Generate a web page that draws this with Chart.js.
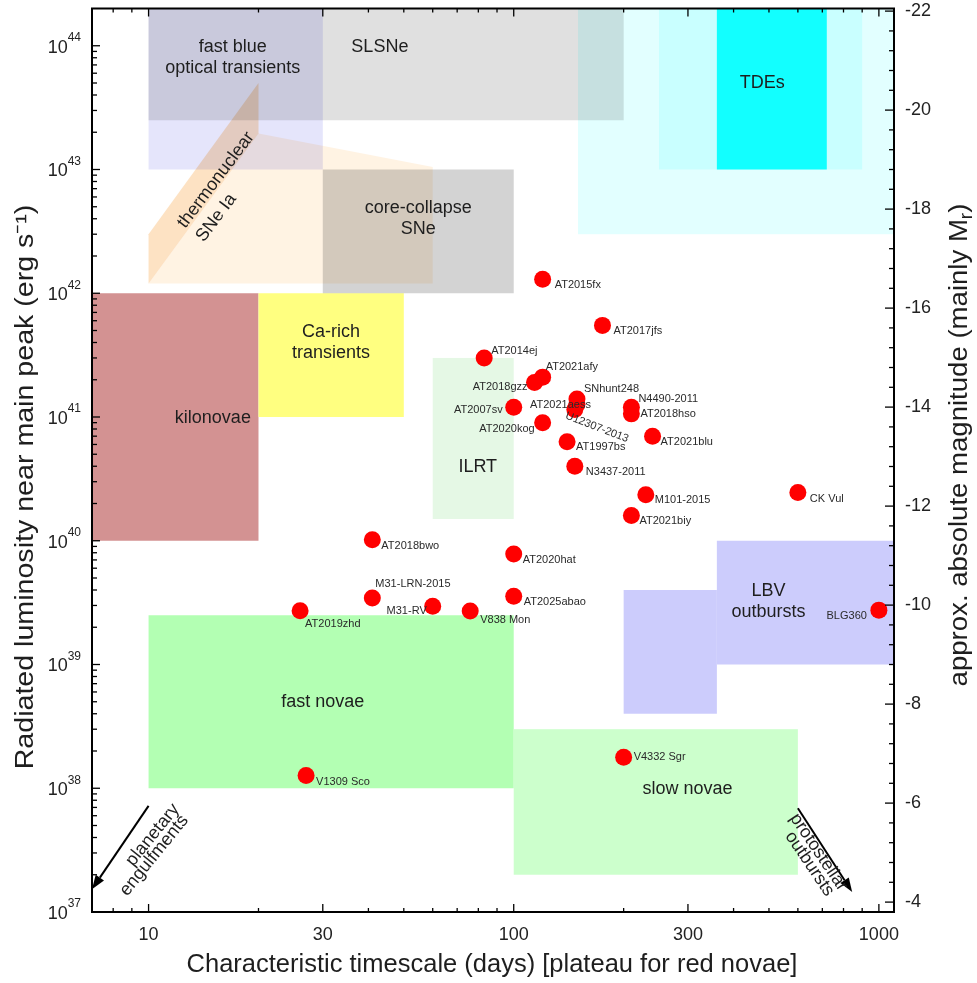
<!DOCTYPE html>
<html><head><meta charset="utf-8">
<script src="https://cdn.jsdelivr.net/npm/chart.js@4/dist/chart.umd.min.js"></script>
<style>html,body{margin:0;padding:0;background:#fff}#wrap{width:977px;height:983px;position:relative}</style>
</head><body><div id="wrap"><canvas id="c" width="977" height="983"></canvas></div>
<script>
// ---------------- data ----------------
const objectNames = ['AT2015fx','AT2017jfs','AT2014ej','AT2021afy','AT2018gzz','AT2007sv','SNhunt248','AT2021aess','U12307-2013','AT2020kog','N4490-2011','AT2018hso','AT2021blu','AT1997bs','N3437-2011','M101-2015','AT2021biy','CK Vul','BLG360','AT2018bwo','AT2020hat','M31-LRN-2015','M31-RV','AT2019zhd','V838 Mon','AT2025abao','V4332 Sgr','V1309 Sco'];
const timescaleDays = [120, 175, 83, 120, 114, 100, 149, 149, 147, 120, 210, 210, 240, 140, 147, 230, 210, 600, 1000, 41, 100, 41, 60, 26, 76, 100, 200, 27];
const peakLuminosity = [1.3e42, 5.5e41, 3.0e41, 2.1e41, 1.9e41, 1.2e41, 1.4e41, 1.27e41, 1.15e41, 9.0e40, 1.2e41, 1.06e41, 7.0e40, 6.3e40, 4.0e40, 2.35e40, 1.6e40, 2.45e40, 2.75e39, 1.02e40, 7.8e39, 3.45e39, 2.95e39, 2.72e39, 2.71e39, 3.56e39, 1.78e38, 1.27e38];

// class regions (days range, luminosity range)
const boxNames    = ['TDE wide','TDE mid','TDE core','fast blue','kilonovae','Ca-rich','ILRT','fast novae','slow novae','LBV low','LBV high','SLSNe','core-collapse'];
const boxDaysMin  = [150, 250, 360, 10, 1,   20,  60,   10,   100,  200,  360,  10,   30];
const boxDaysMax  = [5000, 900, 720, 30, 20, 50,  100,  100,  600,  360,  5000, 200,  100];
const boxLumMin   = [3e42, 1e43, 1e43, 1e43, 1e40, 1e41, 1.5e40, 1e38, 2e37, 4e38, 1e39, 2.5e43, 1e42];
const boxLumMax   = [1e46, 1e46, 1e46, 1e46, 1e42, 1e42, 3e41, 2.5e39, 3e38, 4e39, 1e40, 1e46, 1e43];
// thermonuclear SNe Ia polygons
const sneIaDays  = [10, 20, 60, 60];
const sneIaLum   = [1.2e42, 1.95e43, 1.05e43, 1.2e42];
const sneIaBandDays = [10, 20, 20, 10];
const sneIaBandLum  = [3e42, 5e43, 1.95e43, 1.2e42];
// arrows (start -> end)
const arrowDays = [[10, 7.0], [600, 845]];
const arrowLum  = [[7.2e37, 1.53e37], [6.9e37, 1.45e37]];

// axis ticks
const xTickValues = [8,9,10,20,30,40,50,60,70,80,90,100,200,300,400,500,600,700,800,900,1000];
const xLabelledTicks = [10,30,100,300,1000];
const lumDecades = [37,38,39,40,41,42,43,44];
const magLabelledTicks = [-22,-20,-18,-16,-14,-12,-10,-8,-6,-4];

// ---------------- styles / placement ----------------
const boxColors = ['#e2ffff','#c9ffff','#12ffff','#e5e5fb','#d39292','#ffff80','#e5f8e5','#b3ffb3','#ccffcc','#ccccfc','#ccccfc','#e0e0e0','#d3d3d3'];
const boxBlend  = ['source-over','source-over','source-over','source-over','source-over','source-over','source-over','source-over','source-over','source-over','source-over','multiply','multiply'];
const regionLabelText = [['fast blue','optical transients'],['SLSNe'],['TDEs'],['core-collapse','SNe'],['Ca-rich','transients'],['kilonovae'],['ILRT'],['LBV','outbursts'],['fast novae'],['slow novae']];
const regionLabelDays = [17.0, 43, 479, 54.8, 31.6, 15.0, 79.7, 498.6, 30.0, 299];
const regionLabelLum  = [8.07e43, 9.8e43, 5.0e43, 4.03e42, 4.03e41, 9.8e40, 3.95e40, 3.22e39, 4.94e38, 9.8e37];
const labelOffsets = [
 [12,6,'left',0],[11,6,'left',0],[7,-7,'left',0],[3,-10,'left',0],[-7,4,'right',0],[-11,3,'right',0],
 [7,-10,'left',0],[-47,1,'left',0],[-9,6,'left',21],[-8,6,'right',0],[7,-8,'left',0],[9,0,'left',0],
 [8,6,'left',0],[9,5,'left',0],[11,6,'left',0],[9,5,'left',0],[8,5,'left',0],[12,6,'left',0],
 [-12,6,'right',0],[9,6,'left',0],[9,6,'left',0],[3,-14,'left',0],[-6,5,'right',0],[5,13,'left',0],
 [10,9,'left',0],[10,6,'left',0],[10,0,'left',0],[10,7,'left',0]
];
const FONT = "'Liberation Sans', Arial, Helvetica, sans-serif";
const M0 = 88.7; // bolometric magnitude zero-point: M = M0 - 2.5 log10 L
const yMin = 1e37, yMax = 2e44;

const SUP = {'0':'⁰','1':'¹','2':'²','3':'³','4':'⁴','5':'⁵','6':'⁶','7':'⁷','8':'⁸','9':'⁹','-':'⁻'};
const sup = s => String(s).split('').map(c => SUP[c] || c).join('');
const isDecade = v => Math.abs(Math.log10(v) - Math.round(Math.log10(v))) < 1e-6;

Chart.defaults.font.family = FONT;
Chart.defaults.color = '#222';

const regionsPlugin = {
  id: 'regions',
  beforeDatasetsDraw(chart) {
    const ctx = chart.ctx, a = chart.chartArea, X = chart.scales.x, Y = chart.scales.y;
    const px = v => X.getPixelForValue(v), py = v => Y.getPixelForValue(v);
    ctx.save();
    ctx.beginPath(); ctx.rect(a.left, a.top, a.right - a.left, a.bottom - a.top); ctx.clip();
    ctx.fillStyle = '#fff'; ctx.fillRect(a.left, a.top, a.right - a.left, a.bottom - a.top);
    for (let i = 0; i < boxNames.length; i++) {
      const x0 = px(boxDaysMin[i]), x1 = px(boxDaysMax[i]);
      const y0 = py(boxLumMax[i]), y1 = py(boxLumMin[i]);
      ctx.globalCompositeOperation = boxBlend[i];
      ctx.fillStyle = boxColors[i];
      ctx.fillRect(x0, y0, x1 - x0, y1 - y0);
    }
    ctx.globalCompositeOperation = 'multiply';
    const poly = (ds, ls, col) => {
      ctx.beginPath();
      ds.forEach((d, k) => { const x = px(d), y = py(ls[k]); k ? ctx.lineTo(x, y) : ctx.moveTo(x, y); });
      ctx.closePath(); ctx.fillStyle = col; ctx.fill();
    };
    poly(sneIaDays, sneIaLum, '#fff3e3');
    poly(sneIaBandDays, sneIaBandLum, '#fde2c3');
    ctx.globalCompositeOperation = 'source-over';
    // region labels
    ctx.fillStyle = '#1e1e1e';
    ctx.font = '18px ' + FONT;
    ctx.textAlign = 'center'; ctx.textBaseline = 'middle';
    regionLabelText.forEach((lines, i) => {
      const cx = px(regionLabelDays[i]), cy = py(regionLabelLum[i]);
      const n = lines.length, lh = 21;
      lines.forEach((t, k) => ctx.fillText(t, cx, cy + (k - (n - 1) / 2) * lh));
    });
    // thermonuclear SNe Ia (rotated, left aligned)
    ctx.save();
    ctx.translate(px(12.3), py(3.5e42));
    ctx.rotate(-53 * Math.PI / 180);
    ctx.textAlign = 'left';
    ctx.fillText('thermonuclear', 0, 0);
    ctx.fillText('SNe Ia', 0, 23);
    ctx.restore();
    ctx.restore();
  },
  afterDatasetsDraw(chart) {
    const ctx = chart.ctx, meta = chart.getDatasetMeta(0);
    ctx.save();
    ctx.font = '11px ' + FONT;
    ctx.fillStyle = '#2a2a2a';
    ctx.textBaseline = 'middle';
    meta.data.forEach((el, i) => {
      const o = labelOffsets[i];
      ctx.save();
      ctx.translate(el.x + o[0], el.y + o[1]);
      ctx.rotate(o[3] * Math.PI / 180);
      ctx.textAlign = o[2];
      ctx.fillText(objectNames[i], 0, 0);
      ctx.restore();
    });
    ctx.restore();
  },
  afterDraw(chart) {
    const ctx = chart.ctx, a = chart.chartArea;
    const X = chart.scales.x, Y = chart.scales.y, M = chart.scales.y2;
    ctx.save();
    // arrows
    ctx.strokeStyle = '#000'; ctx.fillStyle = '#000'; ctx.lineWidth = 2;
    arrowDays.forEach((d, i) => {
      const x0 = X.getPixelForValue(d[0]), y0 = Y.getPixelForValue(arrowLum[i][0]);
      const x1 = X.getPixelForValue(d[1]), y1 = Y.getPixelForValue(arrowLum[i][1]);
      const ang = Math.atan2(y1 - y0, x1 - x0), hl = 14, hw = 5;
      const bx = x1 - hl * Math.cos(ang), by = y1 - hl * Math.sin(ang);
      ctx.beginPath(); ctx.moveTo(x0, y0); ctx.lineTo(bx, by); ctx.stroke();
      ctx.beginPath(); ctx.moveTo(x1, y1);
      ctx.lineTo(bx + hw * Math.sin(ang), by - hw * Math.cos(ang));
      ctx.lineTo(bx - hw * Math.sin(ang), by + hw * Math.cos(ang));
      ctx.closePath(); ctx.fill();
    });
    ctx.fillStyle = '#1e1e1e';
    ctx.font = '18px ' + FONT; ctx.textAlign = 'right'; ctx.textBaseline = 'middle';
    const rotText = (lines, d, l, deg) => {
      ctx.save();
      ctx.translate(X.getPixelForValue(d), Y.getPixelForValue(l));
      ctx.rotate(deg * Math.PI / 180);
      ctx.fillText(lines[0], 0, 0);
      ctx.fillText(lines[1], -3, 14);
      ctx.restore();
    };
    rotText(['planetary', 'engulfments'], 11.89, 7.16e37, -51);
    rotText(['protostellar', 'outbursts'], 800, 1.53e37, 56);
    // tick marks (inward)
    ctx.strokeStyle = '#000'; ctx.lineWidth = 1.3;
    const line = (x0, y0, x1, y1) => { ctx.beginPath(); ctx.moveTo(x0, y0); ctx.lineTo(x1, y1); ctx.stroke(); };
    X.ticks.forEach(t => {
      const p = X.getPixelForValue(t.value);
      if (p <= a.left + 1 || p >= a.right - 1) return;
      const len = xLabelledTicks.includes(t.value) ? 8 : 4;
      line(p, a.bottom, p, a.bottom - len);
      line(p, a.top, p, a.top + len);
    });
    Y.ticks.forEach(t => {
      const p = Y.getPixelForValue(t.value);
      if (p <= a.top + 1 || p >= a.bottom - 1) return;
      line(a.left, p, a.left + (isDecade(t.value) ? 8 : 5), p);
    });
    M.ticks.forEach(t => {
      const p = M.getPixelForValue(t.value);
      if (p <= a.top + 1 || p >= a.bottom - 1) return;
      line(a.right, p, a.right - (magLabelledTicks.includes(t.value) ? 9 : 5), p);
    });
    // frame
    ctx.lineWidth = 2;
    ctx.strokeRect(a.left, a.top, a.right - a.left, a.bottom - a.top);
    // left tick labels: 10 with superscript exponent
    ctx.fillStyle = '#222';
    ctx.textBaseline = 'middle';
    lumDecades.forEach(e => {
      const p = Y.getPixelForValue(Math.pow(10, e));
      ctx.font = '12px ' + FONT;
      const we = ctx.measureText(String(e)).width;
      const xr = a.left - 11;
      ctx.textAlign = 'left';
      ctx.fillText(String(e), xr - we, p - 8);
      ctx.font = '18px ' + FONT;
      ctx.textAlign = 'right';
      ctx.fillText('10', xr - we, p + 2);
    });
    // axis titles
    ctx.fillStyle = '#1e1e1e';
    ctx.textBaseline = 'alphabetic'; ctx.textAlign = 'center';
    ctx.font = '25.5px ' + FONT;
    ctx.fillText('Characteristic timescale (days) [plateau for red novae]', 492, 972);
    ctx.save();
    ctx.translate(33, 487); ctx.rotate(-Math.PI / 2); ctx.scale(1.1, 1);
    ctx.font = '26px ' + FONT;
    ctx.fillText('Radiated luminosity near main peak (erg s' + sup('-1') + ')', 0, 0);
    ctx.restore();
    ctx.save();
    ctx.translate(967, 445); ctx.rotate(-Math.PI / 2); ctx.scale(1.06, 1);
    ctx.textAlign = 'left';
    const big = '26px ' + FONT, small = '18px ' + FONT;
    const t1 = 'approx. absolute magnitude (mainly M', t2 = 'r', t3 = ')';
    ctx.font = big; const w1 = ctx.measureText(t1).width, w3 = ctx.measureText(t3).width;
    ctx.font = small; const w2 = ctx.measureText(t2).width;
    let x = -(w1 + w2 + w3) / 2;
    ctx.font = big; ctx.fillText(t1, x, 0); x += w1;
    ctx.font = small; ctx.fillText(t2, x, 5); x += w2;
    ctx.font = big; ctx.fillText(t3, x, 0);
    ctx.restore();
    ctx.restore();
  }
};

new Chart(document.getElementById('c'), {
  type: 'scatter',
  data: {
    datasets: [{
      data: timescaleDays.map((d, i) => ({x: d, y: peakLuminosity[i]})),
      pointRadius: 8.5, pointHoverRadius: 8.5,
      pointBackgroundColor: '#ff0000', pointBorderWidth: 0, borderColor: 'rgba(0,0,0,0)'
    }]
  },
  options: {
    responsive: false, animation: false, events: [],
    layout: {padding: {top: 7, left: 0, right: 0, bottom: 0}},
    plugins: {legend: {display: false}, tooltip: {enabled: false}},
    scales: {
      x: {
        type: 'logarithmic', position: 'bottom', min: 7, max: 1100,
        grid: {display: false, drawTicks: false}, border: {display: false},
        afterBuildTicks: s => { s.ticks = xTickValues.map(v => ({value: v})); },
        afterFit: s => { s.height = 71; s.paddingLeft = 0; s.paddingRight = 0; },
        ticks: {autoSkip: false, maxRotation: 0, padding: 12, color: '#222', font: {size: 18},
          callback: v => xLabelledTicks.includes(v) ? String(v) : ''}
      },
      y: {
        type: 'logarithmic', position: 'left', min: yMin, max: yMax,
        grid: {display: false, drawTicks: false}, border: {display: false},
        afterBuildTicks: s => {
          const t = [];
          lumDecades.forEach(e => { for (let m = 1; m <= 9; m++) { const v = m * Math.pow(10, e); if (v <= yMax) t.push({value: v}); } });
          s.ticks = t;
        },
        afterFit: s => { s.width = 92; s.paddingTop = 0; s.paddingBottom = 0; },
        ticks: {autoSkip: false, padding: 11, color: '#222', font: {size: 18}, callback: () => ''}
      },
      y2: {
        type: 'linear', position: 'right', reverse: true,
        min: M0 - 2.5 * Math.log10(yMax), max: M0 - 2.5 * Math.log10(yMin),
        grid: {display: false, drawTicks: false}, border: {display: false},
        afterBuildTicks: s => {
          const t = [];
          for (let k = 0; k <= 45; k++) t.push({value: Math.round((-22 + 0.4 * k) * 10) / 10});
          s.ticks = t;
        },
        afterFit: s => { s.width = 83; s.paddingTop = 0; s.paddingBottom = 0; },
        ticks: {autoSkip: false, padding: 11, color: '#222', font: {size: 18},
          callback: v => magLabelledTicks.includes(v) ? String(v) : ''}
      }
    }
  },
  plugins: [regionsPlugin]
});
</script></body></html>
